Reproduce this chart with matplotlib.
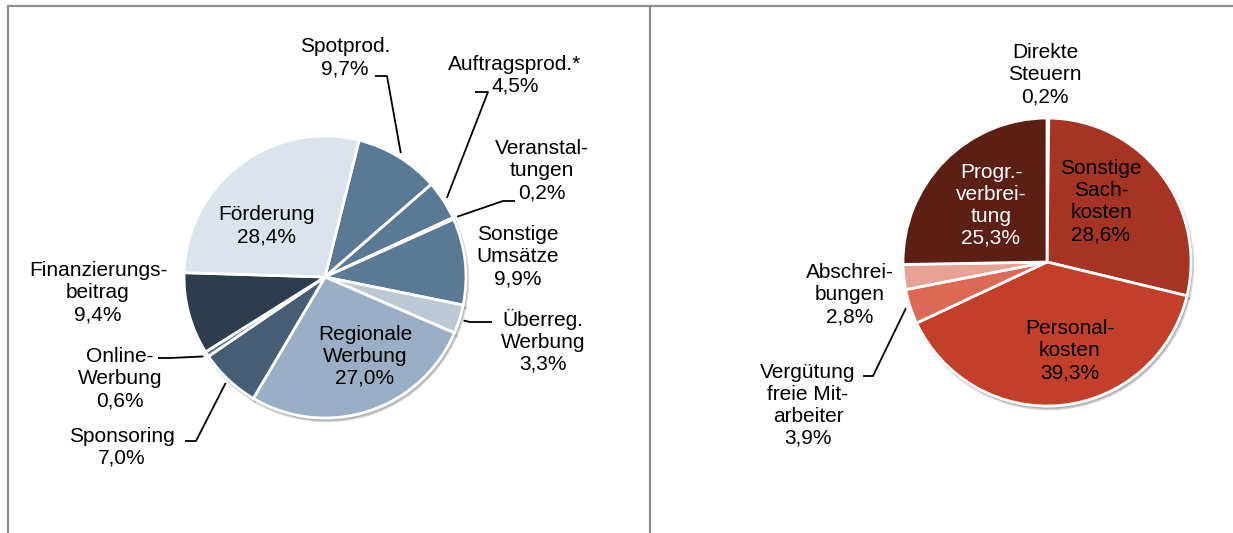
import matplotlib
matplotlib.use("Agg")
import matplotlib.pyplot as plt
import numpy as np
from matplotlib.lines import Line2D

W, H = 1233, 533

# ---------------- data ----------------
left_labels = ["Spotprod.", "Auftragsprod.*", "Veranstal-\ntungen", "Sonstige\nUmsätze",
               "Überreg.\nWerbung", "Regionale\nWerbung", "Sponsoring", "Online-\nWerbung",
               "Finanzierungs-\nbeitrag", "Förderung"]
left_values = [9.7, 4.5, 0.2, 9.9, 3.3, 27.0, 7.0, 0.6, 9.4, 28.4]
left_colors = ["#5b7895", "#5b7895", "#5b7895", "#5b7895", "#bcc8d5",
               "#9aafc5", "#465d74", "#5b7895", "#2e3d4e", "#dce3ec"]

right_labels = ["Direkte\nSteuern", "Sonstige\nSach-\nkosten", "Personal-\nkosten",
                "Vergütung\nfreie Mit-\narbeiter", "Abschrei-\nbungen", "Progr.-\nverbrei-\ntung"]
right_values = [0.2, 28.6, 39.3, 3.9, 2.8, 25.3]
right_colors = ["#8b2a1c", "#a63424", "#c2402a", "#de6856", "#e8a196", "#5c1f16"]

# ---------------- layout (image pixel coords, y downwards) ----------------
left_center, left_radius, left_start = (325, 277), 141, 76
right_center, right_radius, right_start = (1047, 262), 144, 90

# text center, text colour, leader (elbow, end) or None
left_layout = [
    ((345, 58), "black", ((387, 76), (375, 76))),
    ((515, 75), "black", ((488, 92), (475, 92))),
    ((542, 171), "black", ((503, 201), (515, 201))),
    ((518, 257), "black", None),
    ((543, 341), "black", ((470, 322), (492, 322))),
    ((365, 356), "black", None),
    ((122, 447), "black", ((196, 441), (185, 441))),
    ((120, 379), "black", ((170, 358), (158, 358))),
    ((98, 293), "black", None),
    ((267, 226), "black", None),
]
right_layout = [
    ((1045, 75), "black", None),
    ((1101, 202), "black", None),
    ((1070, 351), "black", None),
    ((808, 405), "black", ((873, 376), (863, 376))),
    ((850, 295), "black", None),
    ((991, 205), "white", None),
]

plt.rcParams["font.family"] = ["Liberation Sans", "DejaVu Sans"]

fig = plt.figure(figsize=(W / 100, H / 100), dpi=100)
ax = fig.add_axes([0, 0, 1, 1])


def Y(y):
    return H - y


def fmt(v):
    return f"{v:.1f}%".replace(".", ",")


def draw_pie(values, colors, labels, layout, center, radius, start):
    c = (center[0], Y(center[1]))
    wedges, _ = ax.pie(values, colors=colors, center=c, radius=radius,
                       startangle=start, counterclock=False,
                       wedgeprops=dict(edgecolor="white", linewidth=2.0),
                       shadow=dict(ox=1.2, oy=-2.0, shade=0.9, alpha=0.18))
    for w, lab, v, (tpos, tcol, leader) in zip(wedges, labels, values, layout):
        ax.text(tpos[0], Y(tpos[1]), lab + "\n" + fmt(v), ha="center", va="center",
                multialignment="center", fontsize=15, color=tcol, linespacing=1.2)
        if leader is not None:
            mid = np.deg2rad((w.theta1 + w.theta2) / 2)
            ax_, ay_ = c[0] + radius * 1.03 * np.cos(mid), c[1] + radius * 1.03 * np.sin(mid)
            (ex, ey), (fx, fy) = leader
            ax.add_line(Line2D([ax_, ex, fx], [ay_, Y(ey), Y(fy)], color="black",
                               linewidth=1.3, solid_capstyle="butt"))


draw_pie(left_values, left_colors, left_labels, left_layout, left_center, left_radius, left_start)
draw_pie(right_values, right_colors, right_labels, right_layout, right_center, right_radius, right_start)

# panel borders
bc = "#8c8c8c"
ax.add_line(Line2D([8, W], [Y(6), Y(6)], color=bc, linewidth=1.6))
ax.add_line(Line2D([8, 8], [Y(6), 0], color=bc, linewidth=1.6))
ax.add_line(Line2D([650, 650], [Y(6), 0], color=bc, linewidth=1.6))

ax.set_xlim(0, W)
ax.set_ylim(0, H)
ax.set_aspect("equal", adjustable="box")
ax.axis("off")

fig.savefig("out.png", dpi=100, facecolor="white")
